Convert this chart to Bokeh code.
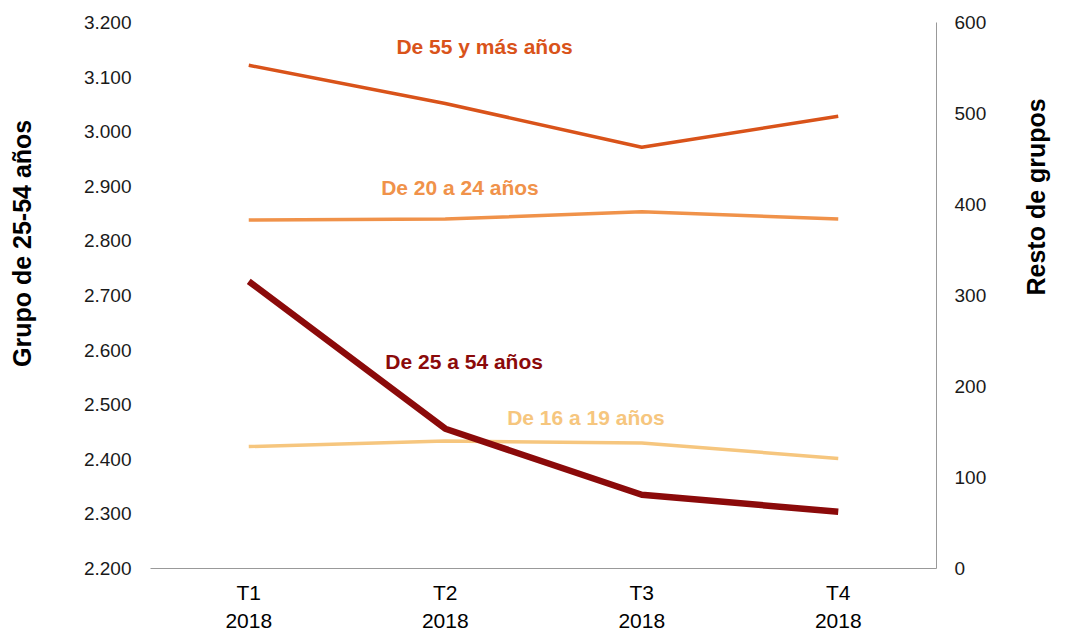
import math
from bokeh.plotting import figure
from bokeh.models import Range1d, LinearAxis, Label, CustomJSTickFormatter, FixedTicker
from bokeh.embed import file_html
from bokeh.resources import INLINE

quarters = ["T1\n2018", "T2\n2018", "T3\n2018", "T4\n2018"]
g25_54 = [2726, 2456, 2335, 2304]      # left axis
g55_mas = [553, 511, 463, 497]         # right axis
g20_24 = [383, 384, 392, 384]          # right axis
g16_19 = [134, 140, 138, 121]          # right axis

left_ticks = [2200, 2300, 2400, 2500, 2600, 2700, 2800, 2900, 3000, 3100, 3200]
right_ticks = [0, 100, 200, 300, 400, 500, 600]

left_title = "Grupo de 25-54 años"
right_title = "Resto de grupos"

FONT = "Liberation Sans"
NB = "\u00a0"

p = figure(width=1066, height=634, x_range=quarters, y_range=Range1d(2200, 3200),
           output_backend="svg", toolbar_location=None,
           min_border_left=150, min_border_right=129, min_border_top=22, min_border_bottom=65)
p.x_range.range_padding = 0
p.x_range.factor_padding = 0
p.extra_y_ranges = {"right": Range1d(0, 600)}
p.outline_line_color = None
p.xgrid.visible = False
p.ygrid.visible = False
p.background_fill_color = "white"
p.border_fill_color = "white"


def bare(ax):
    ax.axis_line_color = None
    ax.major_tick_line_color = None
    ax.major_tick_out = 0
    ax.major_tick_in = 0
    ax.minor_tick_line_color = None
    ax.minor_tick_out = 0
    ax.minor_tick_in = 0


# left axis
ya = p.yaxis[0]
ya.ticker = FixedTicker(ticks=left_ticks)
ya.formatter = CustomJSTickFormatter(code="return (tick/1000).toFixed(3);")
bare(ya)
ya.major_label_standoff = 19
ya.major_label_text_font = FONT
ya.major_label_text_font_size = "19px"
ya.major_label_text_color = "#1a1a1a"

# left title axis (title sits a little above centre, as in the original)
lt = LinearAxis(ticker=FixedTicker(ticks=[]))
bare(lt)
lt.axis_label = NB * 15 + left_title
lt.axis_label_text_font = FONT
lt.axis_label_text_font_style = "bold"
lt.axis_label_text_font_size = "25px"
lt.axis_label_text_color = "#000000"
lt.axis_label_standoff = 45
p.add_layout(lt, "left")

# right axis
ra = LinearAxis(y_range_name="right", ticker=FixedTicker(ticks=right_ticks))
bare(ra)
ra.axis_line_color = "#999999"
ra.axis_line_width = 1
ra.major_label_standoff = 18
ra.major_label_text_font = FONT
ra.major_label_text_font_size = "19px"
ra.major_label_text_color = "#1a1a1a"
p.add_layout(ra, "right")

# right title axis (reads bottom-to-top, below centre)
rt = LinearAxis(y_range_name="right", ticker=FixedTicker(ticks=[]))
bare(rt)
rt.axis_label = right_title
rt.axis_label_orientation = -1.5 * math.pi
rt.axis_label_text_font = FONT
rt.axis_label_text_font_style = "bold"
rt.axis_label_text_font_size = "25px"
rt.axis_label_text_color = "#000000"
rt.axis_label_standoff = 46
p.add_layout(rt, "right")

# bottom axis
xa = p.xaxis[0]
bare(xa)
xa.axis_line_color = "#999999"
xa.major_label_standoff = 12
xa.major_label_text_font = FONT
xa.major_label_text_font_size = "21px"
xa.major_label_text_line_height = 1.22
xa.major_label_text_color = "#000000"

C55 = "#D9531A"
C20 = "#F0924A"
C16 = "#F6C67E"
C25 = "#8B0A0A"

p.line(quarters, g55_mas, y_range_name="right", line_color=C55, line_width=3.5)
p.line(quarters, g20_24, y_range_name="right", line_color=C20, line_width=3.5)
p.line(quarters, g16_19, y_range_name="right", line_color=C16, line_width=3.5)
p.line(quarters, g25_54, line_color=C25, line_width=6.5)

labels = [
    ("De 55 y más años", 1.70, 3156, C55),
    ("De 20 a 24 años", 1.575, 2897, C20),
    ("De 25 a 54 años", 1.596, 2580, C25),
    ("De 16 a 19 años", 2.216, 2476, C16),
]
for txt, x, y, c in labels:
    p.add_layout(Label(x=x, y=y, text=txt, text_color=c, text_font=FONT,
                       text_font_style="bold", text_font_size="21px",
                       text_align="center", text_baseline="middle"))

open("out.html", "w").write(file_html(p, INLINE))
